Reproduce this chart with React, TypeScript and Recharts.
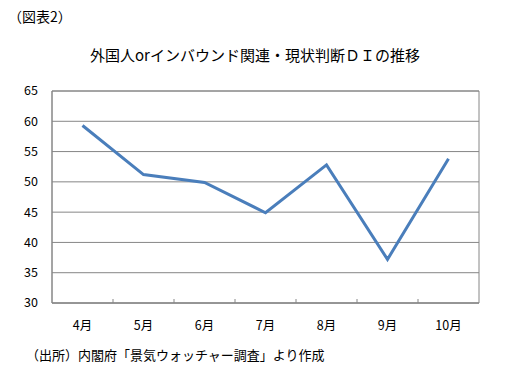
import React from 'react';
import { LineChart, Line, XAxis, YAxis, CartesianGrid, ReferenceArea } from 'recharts';

const months = ['4月', '5月', '6月', '7月', '8月', '9月', '10月'];
const diValues = [59.3, 51.2, 49.9, 44.9, 52.8, 37.2, 53.8];
const yTicks = [30, 35, 40, 45, 50, 55, 60, 65];

const data = months.map((month, i) => ({ month, di: diValues[i] }));

const font = '"Noto Sans CJK JP", "Noto Sans", sans-serif';

const MonthTick = (props: any) => {
    const { x, y, payload, index } = props;
    const half = payload.offset || 0;
    return (
        <g>
            {index > 0 && (
                <line x1={x - half} x2={x - half} y1={y} y2={y - 4} stroke="#868686" strokeWidth={1} />
            )}
            <text x={x} y={y + 27} textAnchor="middle" fontSize={12.5} fill="#000" fontFamily={font}>
                {payload.value}
            </text>
        </g>
    );
};

export default function App() {
    return (
        <div style={{ position: 'absolute', left: 0, top: 0, width: 516, height: 380, background: '#fff', fontFamily: font }}>
            <div style={{ position: 'absolute', left: 8, top: 6, fontSize: 14 }}>（図表2）</div>
            <div style={{ position: 'absolute', left: 0, width: 510, top: 44, fontSize: 15, textAlign: 'center' }}>
                外国人orインバウンド関連・現状判断ＤＩの推移
            </div>
            <LineChart
                width={516}
                height={380}
                data={data}
                margin={{ top: 91, right: 37, left: 8, bottom: 47 }}
            >
                <CartesianGrid vertical={false} stroke="#868686" />
                <ReferenceArea y1={30} y2={65} fill="none" stroke="#868686" strokeWidth={1} />
                <XAxis
                    dataKey="month"
                    scale="band"
                    height={30}
                    axisLine={{ stroke: '#868686' }}
                    tickLine={false}
                    tickSize={0}
                    tickMargin={0}
                    tick={<MonthTick />}
                    interval={0}
                />
                <YAxis
                    domain={[30, 65]}
                    ticks={yTicks}
                    width={44}
                    axisLine={{ stroke: '#868686' }}
                    tickLine={false}
                    tickSize={0}
                    tickMargin={14}
                    tick={{ fontSize: 12.5, fill: '#000', fontFamily: font }}
                />
                <Line
                    type="linear"
                    dataKey="di"
                    stroke="#4a7ebb"
                    strokeWidth={3}
                    dot={false}
                    isAnimationActive={false}
                />
            </LineChart>
            <div style={{ position: 'absolute', left: 26, top: 345, fontSize: 13 }}>
                （出所）内閣府「景気ウォッチャー調査」より作成
            </div>
        </div>
    );
}
